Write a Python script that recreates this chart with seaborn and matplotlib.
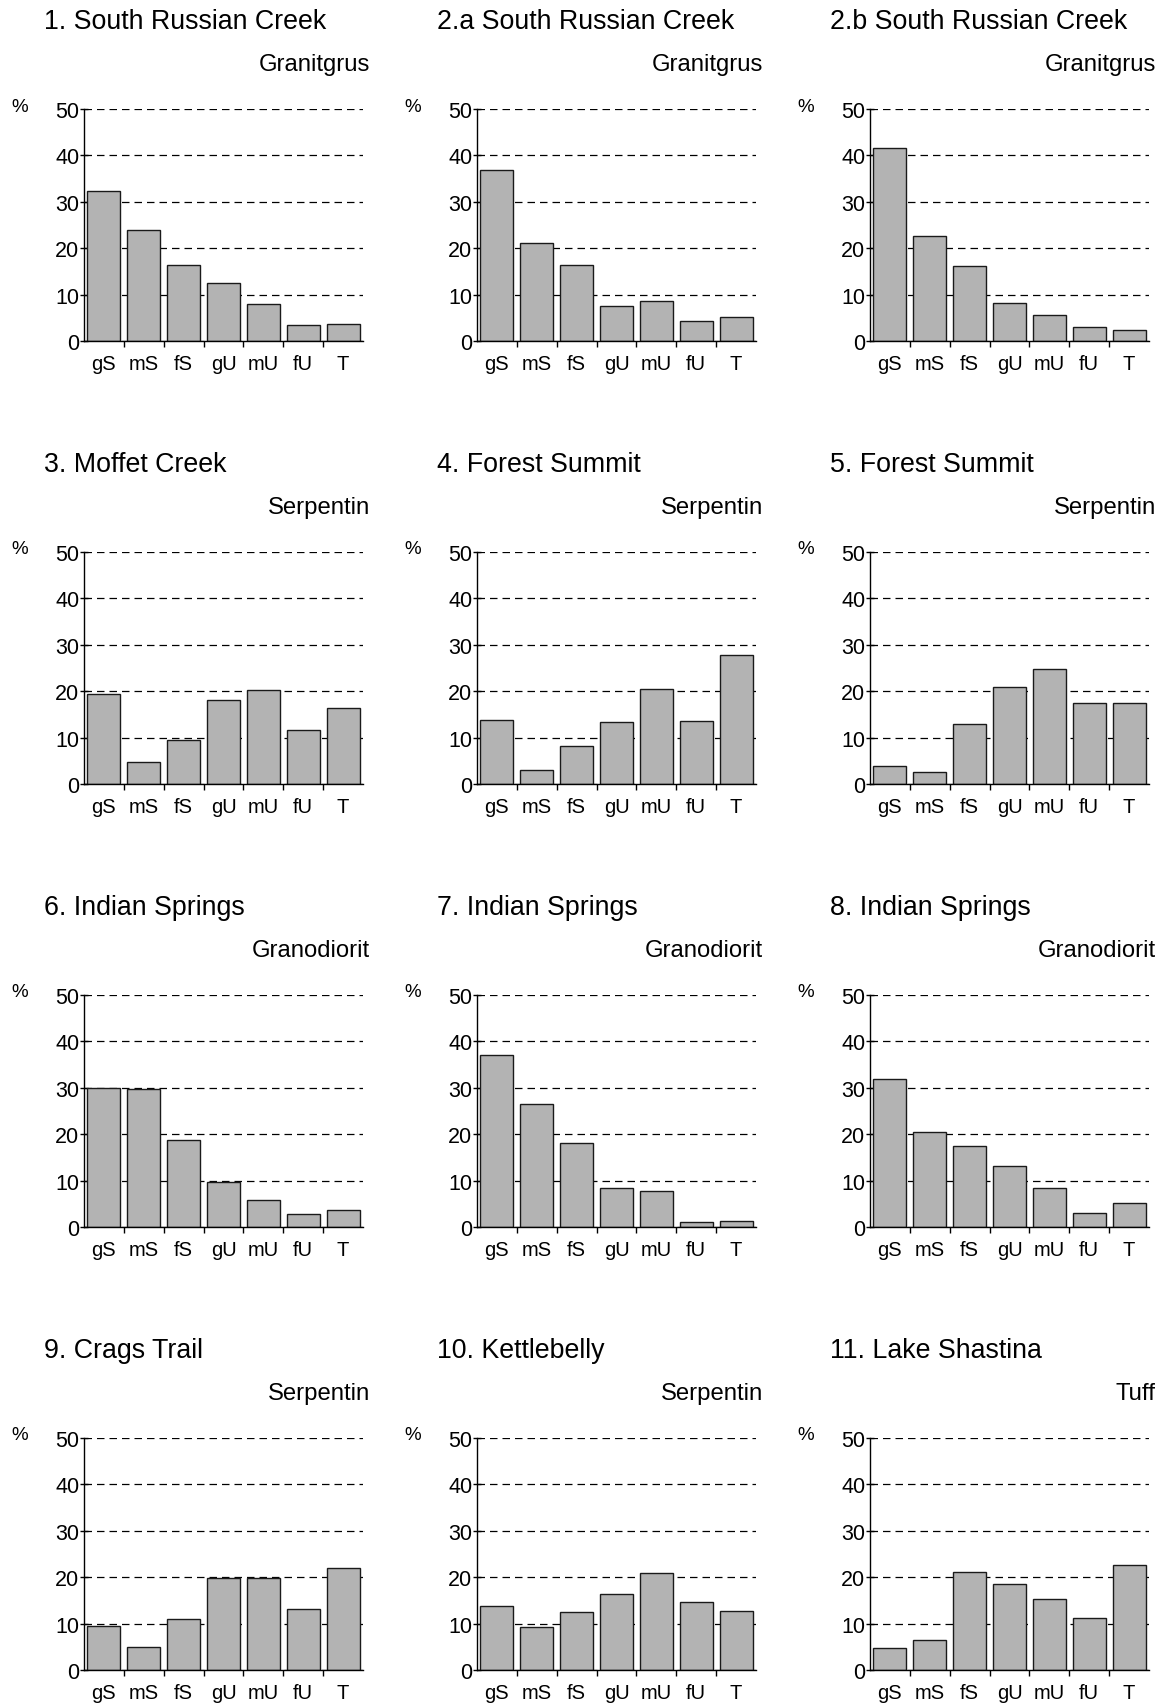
import numpy as np
import pandas as pd
import matplotlib
matplotlib.use('Agg')
import matplotlib.pyplot as plt
import seaborn as sns
from matplotlib.ticker import FixedLocator

# grain size classes
categories = ['gS', 'mS', 'fS', 'gU', 'mU', 'fU', 'T']

titles = ['1. South Russian Creek', '2.a South Russian Creek', '2.b South Russian Creek',
          '3. Moffet Creek', '4. Forest Summit', '5. Forest Summit',
          '6. Indian Springs', '7. Indian Springs', '8. Indian Springs',
          '9. Crags Trail', '10. Kettlebelly', '11. Lake Shastina']
rocks = ['Granitgrus', 'Granitgrus', 'Granitgrus',
         'Serpentin', 'Serpentin', 'Serpentin',
         'Granodiorit', 'Granodiorit', 'Granodiorit',
         'Serpentin', 'Serpentin', 'Tuff']

site_1 = [32.4, 23.9, 16.3, 12.5, 8.0, 3.4, 3.6]
site_2a = [36.8, 21.1, 16.4, 7.5, 8.6, 4.3, 5.2]
site_2b = [41.7, 22.6, 16.2, 8.2, 5.7, 3.0, 2.4]
site_3 = [19.5, 4.8, 9.5, 18.0, 20.2, 11.6, 16.3]
site_4 = [13.9, 3.1, 8.2, 13.3, 20.4, 13.5, 27.7]
site_5 = [3.9, 2.6, 12.9, 20.8, 24.7, 17.4, 17.4]
site_6 = [30.0, 29.8, 18.8, 9.7, 5.8, 2.7, 3.7]
site_7 = [37.1, 26.6, 18.0, 8.5, 7.8, 1.0, 1.2]
site_8 = [32.0, 20.5, 17.4, 13.1, 8.4, 3.0, 5.2]
site_9 = [9.4, 5.0, 10.9, 19.9, 19.9, 13.1, 21.9]
site_10 = [13.8, 9.3, 12.4, 16.4, 20.9, 14.7, 12.7]
site_11 = [4.8, 6.5, 21.1, 18.5, 15.4, 11.1, 22.7]

sites = [site_1, site_2a, site_2b, site_3, site_4, site_5,
         site_6, site_7, site_8, site_9, site_10, site_11]

sns.set_theme(style='white')
plt.rcParams['font.family'] = ['Liberation Sans', 'DejaVu Sans']

W, H = 1166, 1706
fig = plt.figure(figsize=(W / 100, H / 100), dpi=100)

col_left = [84, 477, 870]
row_top = [110, 553, 996, 1439]
aw, ah = 279, 232

for i, (vals, title, rock) in enumerate(zip(sites, titles, rocks)):
    left = col_left[i % 3]
    top = row_top[i // 3]
    ax = fig.add_axes([left / W, 1 - (top + ah) / H, aw / W, ah / H])

    df = pd.DataFrame({'klasse': categories, 'anteil': vals})
    sns.barplot(data=df, x='klasse', y='anteil', ax=ax, color='#b3b3b3',
                saturation=1, width=0.83, edgecolor='#1a1a1a', linewidth=1)

    ax.set_xlim(-0.5, 6.5)
    ax.set_ylim(0, 50)
    ax.set_yticks([0, 10, 20, 30, 40, 50])
    ax.set_xlabel('')
    ax.set_ylabel('')
    ax.yaxis.grid(True, linestyle=(0, (6, 4)), color='black', linewidth=0.9)
    ax.xaxis.grid(False)
    ax.set_axisbelow(True)

    for s in ['top', 'right']:
        ax.spines[s].set_visible(False)
    for s in ['left', 'bottom']:
        ax.spines[s].set_color('black')
        ax.spines[s].set_linewidth(1)

    ax.xaxis.set_minor_locator(FixedLocator([0.5, 1.5, 2.5, 3.5, 4.5, 5.5]))
    ax.tick_params(axis='x', which='major', length=0, pad=9.5, labelsize=14.5, colors='black')
    ax.tick_params(axis='x', which='minor', bottom=True, length=4, width=1,
                   direction='out', color='black')
    ax.tick_params(axis='y', which='major', left=True, length=6, width=1,
                   direction='inout', pad=0.5, labelsize=15.5, colors='black')

    fig.text((left - 40) / W, 1 - (top - 88) / H, title, fontsize=19.3,
             ha='left', va='center', color='black')
    fig.text((left + aw + 7) / W, 1 - (top - 45) / H, rock, fontsize=17.2,
             ha='right', va='center', color='black')
    fig.text((left - 64) / W, 1 - (top - 3) / H, '%', fontsize=13.5,
             ha='center', va='center', color='black')

fig.savefig('out.png', dpi=100)
